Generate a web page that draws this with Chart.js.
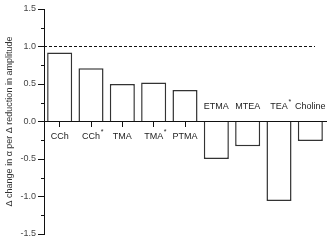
<!DOCTYPE html>
<html>
<head>
<meta charset="utf-8">
<script src="https://cdn.jsdelivr.net/npm/chart.js@4/dist/chart.umd.min.js"></script>
<style>
  html, body { margin: 0; padding: 0; background: #fff; }
  #wrap { width: 331px; height: 246px; }
</style>
</head>
<body>
<div id="wrap"><canvas id="chart"></canvas></div>
<script>
const categories = ['CCh', 'CCh', 'TMA', 'TMA', 'PTMA', 'ETMA', 'MTEA', 'TEA', 'Choline'];
const starred = [false, true, false, true, false, false, false, true, false];
const values = [0.92, 0.71, 0.50, 0.52, 0.42, -0.50, -0.33, -1.06, -0.26];
const yTicks = [1.5, 1.0, 0.5, 0.0, -0.5, -1.0, -1.5];
const refLine = 1.0;
const yTitle = 'Δ change in α per Δ reduction in amplitude';

const FONT = '"Liberation Sans", Arial, sans-serif';

// labels, asterisks, minor ticks, dashed line and axis title
const extras = {
    id: 'extras',
    afterDraw(chart) {
        const ctx = chart.ctx;
        const x = chart.scales.x;
        const y = chart.scales.y;
        const area = chart.chartArea;
        const zero = y.getPixelForValue(0);
        ctx.save();

        // dashed reference line
        ctx.strokeStyle = '#111';
        ctx.lineWidth = 1;
        ctx.setLineDash([3, 2]);
        const ry = Math.round(y.getPixelForValue(refLine)) + 0.5;
        ctx.beginPath();
        ctx.moveTo(area.left, ry);
        ctx.lineTo(315, ry);
        ctx.stroke();
        ctx.setLineDash([]);

        // minor ticks
        for (let v = -1.25; v < 1.5; v += 0.5) {
            const py = Math.round(y.getPixelForValue(v)) + 0.5;
            ctx.beginPath();
            ctx.moveTo(area.left - 3, py);
            ctx.lineTo(area.left, py);
            ctx.stroke();
        }

        // category labels
        ctx.fillStyle = '#222';
        ctx.textAlign = 'center';
        ctx.textBaseline = 'middle';
        categories.forEach((c, i) => {
            const cx = x.getPixelForValue(i);
            const ly = values[i] >= 0 ? zero + 15 : zero - 15;
            ctx.font = '9px ' + FONT;
            ctx.fillText(c, cx, ly);
            if (starred[i]) {
                const w = ctx.measureText(c).width;
                ctx.font = '7px ' + FONT;
                ctx.fillText('*', cx + w / 2 + 2, ly - 4);
            }
        });

        // y axis title
        ctx.fillStyle = '#333';
        ctx.font = '9px ' + FONT;
        ctx.translate(10, (area.top + area.bottom) / 2);
        ctx.rotate(-Math.PI / 2);
        ctx.fillText(yTitle, 0, 0);
        ctx.restore();
    }
};

new Chart(document.getElementById('chart').getContext('2d'), {
    type: 'bar',
    data: {
        labels: categories,
        datasets: [{
            data: values,
            backgroundColor: '#ffffff',
            borderColor: '#333',
            borderWidth: 1.5,
            barPercentage: 0.8,
            categoryPercentage: 1.0
        }]
    },
    options: {
        responsive: true,
        maintainAspectRatio: false,
        animation: false,
        events: [],
        layout: { padding: { top: 9, right: 5, bottom: 12, left: 0 } },
        plugins: {
            legend: { display: false },
            tooltip: { enabled: false }
        },
        scales: {
            x: {
                type: 'category',
                position: { y: 0 },
                grid: {
                    drawOnChartArea: false,
                    offset: false,
                    tickLength: 5,
                    color: '#111'
                },
                border: { color: '#111', width: 1 },
                ticks: { display: false }
            },
            y: {
                min: -1.5,
                max: 1.5,
                afterFit: s => { s.width = 44; },
                afterBuildTicks: s => { s.ticks = yTicks.map(v => ({ value: v })); },
                grid: {
                    drawOnChartArea: false,
                    tickLength: 6,
                    color: '#111'
                },
                border: { color: '#111', width: 1 },
                ticks: {
                    padding: 2,
                    color: '#444',
                    font: { family: FONT, size: 9 },
                    callback: v => v.toFixed(1)
                }
            }
        }
    },
    plugins: [extras]
});
</script>
</body>
</html>
